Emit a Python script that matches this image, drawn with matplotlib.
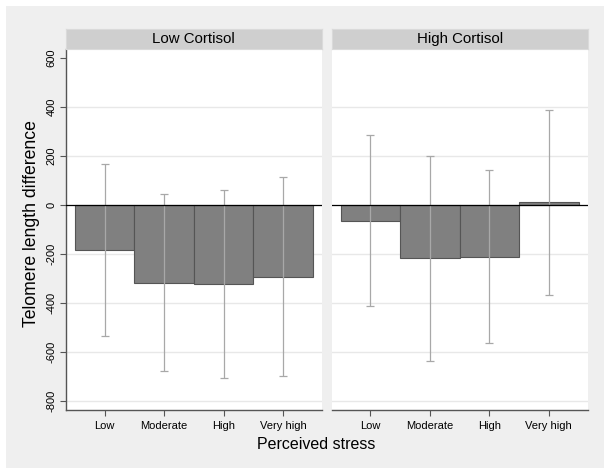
import matplotlib
matplotlib.use("Agg")
import matplotlib.pyplot as plt
from matplotlib.patches import Rectangle

plt.rcParams['font.family'] = ['Liberation Sans', 'DejaVu Sans']

categories = ["Low", "Moderate", "High", "Very high"]
panels = ["Low Cortisol", "High Cortisol"]

# mean difference and 95% CI per panel
low_cort_mean = [-185, -320, -322, -295]
low_cort_upper = [167, 44, 60, 111]
low_cort_lower = [-537, -680, -707, -701]

high_cort_mean = [-65, -219, -212, 11]
high_cort_upper = [286, 199, 143, 386]
high_cort_lower = [-412, -637, -563, -369]

yticks = [-800, -600, -400, -200, 0, 200, 400, 600]
gridvals = [-800, -600, -400, -200, 200, 400]

W, H = 604, 468
fig = plt.figure(figsize=(W / 100, H / 100), dpi=100, facecolor="white")
fig.patches.append(Rectangle((6 / W, 0), 1, (H - 6) / H, transform=fig.transFigure,
                             facecolor="#efefef", edgecolor="none", zorder=-10))

def px_axes(x0, x1, ytop, ybot):
    return fig.add_axes([x0 / W, (H - ybot) / H, (x1 - x0) / W, (ybot - ytop) / H])

bar_col = "#808080"
edge_col = "#555555"
err_col = "#a8a8a8"
spine_col = "#555555"

panel_px = [(66, 321.7), (331.7, 587.5)]
data = [(low_cort_mean, low_cort_upper, low_cort_lower),
        (high_cort_mean, high_cort_upper, high_cort_lower)]

xs = list(range(1, len(categories) + 1))
for i, (title, (x0, x1), (mean, up, lo)) in enumerate(zip(panels, panel_px, data)):
    ax = px_axes(x0, x1, 48.5, 409.5)
    ax.set_facecolor("white")
    for g in gridvals:
        ax.axhline(g, color="#e8e8e8", lw=1.0, zorder=0)
    ax.bar(xs, mean, width=1.0, color=bar_col, edgecolor=edge_col, linewidth=0.8, zorder=2)
    yerr = [[m - l for m, l in zip(mean, lo)], [u - m for m, u in zip(mean, up)]]
    ax.errorbar(xs, mean, yerr=yerr, fmt="none", ecolor=err_col, elinewidth=0.9,
                capsize=3, capthick=0.9, zorder=3)
    ax.axhline(0, color="black", lw=0.9, zorder=4)
    ax.set_xlim(0.35, 4.65)
    ax.set_ylim(-836, 637)
    ax.set_xticks(xs)
    ax.set_xticklabels(categories, fontsize=8)
    for s in ["top", "right"]:
        ax.spines[s].set_visible(False)
    ax.spines["bottom"].set_color(spine_col)
    ax.spines["bottom"].set_linewidth(1.0)
    ax.tick_params(axis="x", length=4, width=0.8, color=spine_col, pad=4)
    if i == 0:
        ax.spines["left"].set_color(spine_col)
        ax.spines["left"].set_linewidth(1.0)
        ax.set_yticks(yticks)
        ax.set_yticklabels([str(v) for v in yticks], fontsize=8, rotation=90, va="center")
        ax.tick_params(axis="y", length=4, width=0.8, color=spine_col, pad=3)
    else:
        ax.spines["left"].set_visible(False)
        ax.set_yticks([])
    # strip header
    sax = px_axes(x0, x1, 29.3, 48.5)
    sax.set_facecolor("#cfcfcf")
    for s in sax.spines.values():
        s.set_color("#dadada")
    sax.set_xticks([])
    sax.set_yticks([])
    sax.text(0.5, 0.5, title, ha="center", va="center", fontsize=10.8, transform=sax.transAxes)

fig.text(40 / W, 1 - 223.5 / H, "Telomere length difference", rotation=90,
         ha="right", va="center", fontsize=12.7)
fig.text(316 / W, 1 - 449 / H, "Perceived stress", ha="center", va="baseline", fontsize=11.5)

fig.savefig("out.png", dpi=100, facecolor="white")
